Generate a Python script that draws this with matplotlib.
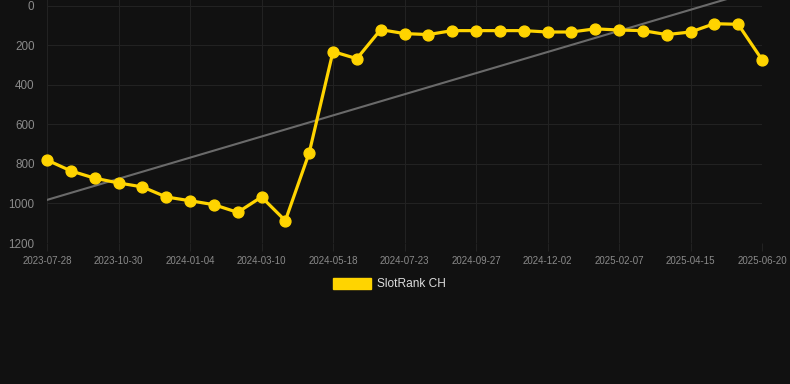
import numpy as np
import matplotlib.pyplot as plt
from matplotlib.patches import Patch

plt.rcParams['font.family'] = ['Liberation Sans', 'DejaVu Sans']

# SlotRank CH position, one point per sample (approximately every 3 weeks)
rank = [780, 835, 872, 896, 916, 967, 986, 1006, 1045, 967,
        1087, 744, 231, 267, 120, 140, 145, 125, 125, 125,
        125, 132, 132, 116, 122, 125, 145, 132, 90, 93, 272]
tick_labels = ['2023-07-28', '2023-10-30', '2024-01-04', '2024-03-10',
               '2024-05-18', '2024-07-23', '2024-09-27', '2024-12-02',
               '2025-02-07', '2025-04-15', '2025-06-20']
label_step = 3

x = np.arange(len(rank))
slope, icpt = np.polyfit(x, rank, 1)

bg = '#111111'
grid_col = '#222222'

fig = plt.figure(figsize=(7.9, 3.84), dpi=100, facecolor=bg)
ax = fig.add_axes([47 / 790, 141 / 384, (762 - 47) / 790, 243 / 384])
ax.set_facecolor(bg)

ax.plot(x, slope * x + icpt, color='#6a6a6a', lw=1.5, zorder=2)
ax.plot(x, rank, color='#FFD400', lw=2.3, marker='o', ms=7.8,
        zorder=3, clip_on=False)

ax.set_xlim(0, len(rank) - 1)
ax.set_ylim(1200, -30)
ax.set_yticks([0, 200, 400, 600, 800, 1000, 1200])
ax.set_xticks(x[::label_step])
ax.set_xticklabels(tick_labels)

ax.grid(True, color=grid_col, lw=0.8)
ax.set_axisbelow(True)
for s in ax.spines.values():
    s.set_visible(False)
ax.tick_params(axis='x', colors=grid_col, length=6, width=0.8, pad=3,
               labelsize=7, labelcolor='#8a8a8a')
ax.tick_params(axis='y', length=0, pad=9, labelsize=8.4,
               labelcolor='#8a8a8a')

fig.legend(handles=[Patch(facecolor='#FFD400', edgecolor='#FFD400')],
           labels=['SlotRank CH'], loc='center', bbox_to_anchor=(0.493, 0.26),
           frameon=False, fontsize=8.6, labelcolor='#dddddd',
           handlelength=3.25, handleheight=1.0, handletextpad=0.5)

fig.savefig('out.png', dpi=100, facecolor=bg)
